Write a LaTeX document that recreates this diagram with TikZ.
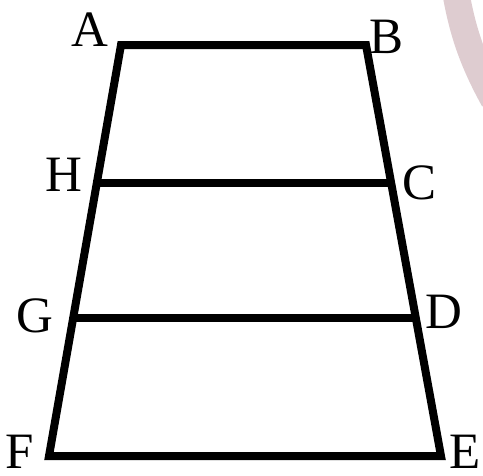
\documentclass[tikz,border=0pt]{standalone}
\usepackage{fontspec}
\setmainfont{Liberation Serif}
\begin{document}
\begin{tikzpicture}[x=1pt,y=-1pt,
  edge/.style={line width=8pt,line join=miter},
  lbl/.style={inner sep=0pt,font=\fontsize{51}{51}\selectfont}]
\useasboundingbox (0,0) rectangle (483,475);
\definecolor{wmark}{RGB}{222,204,208}
\begin{scope}
\clip (0,0) rectangle (483,475);
\draw[wmark,line width=27pt] (455,-12) .. controls (462,30) and (472,60) .. (494,100);
\end{scope}
\coordinate (A) at (121,45);
\coordinate (B) at (366,45);
\coordinate (C) at (391,183);
\coordinate (D) at (416,318);
\coordinate (E) at (441,456);
\coordinate (F) at (49,456);
\coordinate (G) at (73,318);
\coordinate (H) at (97,183);
\draw[edge] (A) -- (B) -- (E) -- (F) -- cycle;
\draw[edge] (H) -- (C);
\draw[edge] (G) -- (D);
\node[lbl] (lA) at (90,30) {A};
\node[lbl] (lB) at (387,37) {B};
\node[lbl] (lC) at (420,183) {C};
\node[lbl] (lD) at (444,312) {D};
\node[lbl] (lE) at (465,452) {E};
\node[lbl] (lF) at (20,452) {F};
\node[lbl] (lG) at (35,316) {G};
\node[lbl] (lH) at (64,175) {H};
\end{tikzpicture}
\end{document}
